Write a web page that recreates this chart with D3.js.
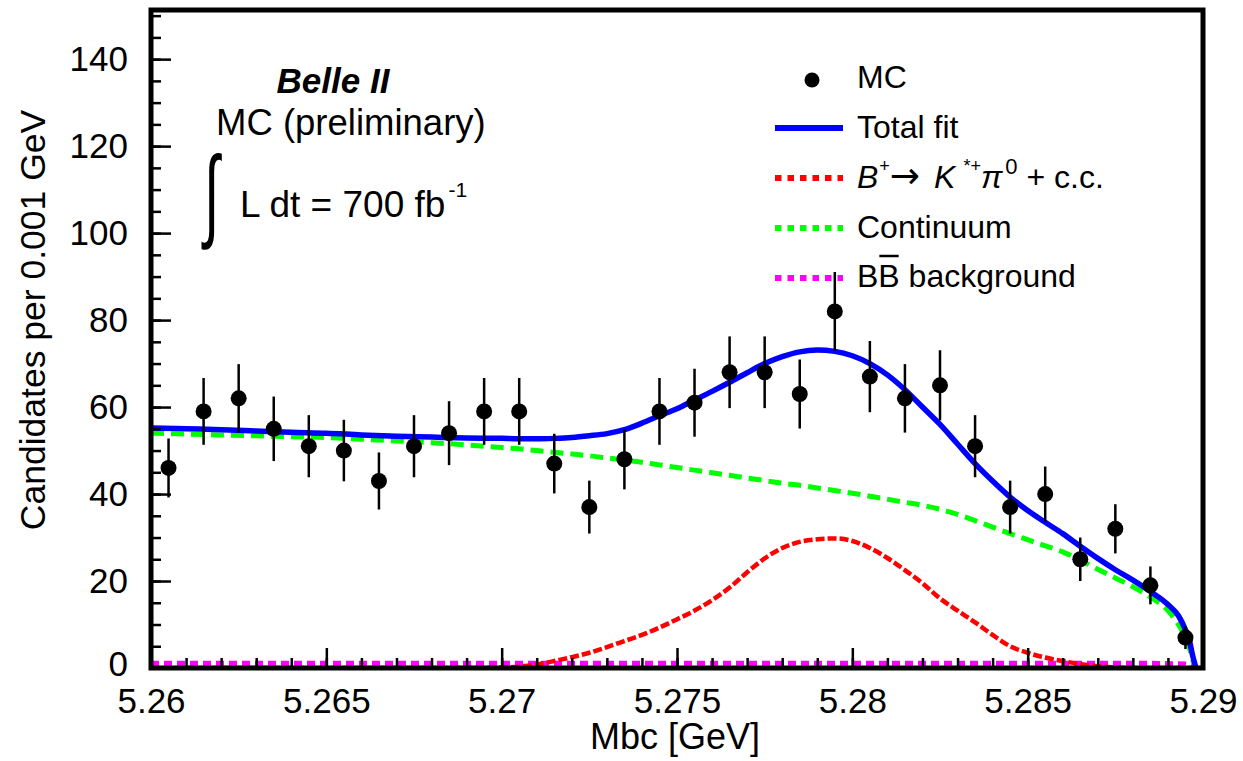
<!DOCTYPE html>
<html>
<head>
<meta charset="utf-8">
<script src="https://cdn.jsdelivr.net/npm/d3@7"></script>
<style>
  body { margin: 0; background: #fff; }
  svg { display: block; }
  text { font-family: "Liberation Sans", Arial, Helvetica, sans-serif; fill: #000; }
</style>
</head>
<body>
<svg id="chart" width="1243" height="761"></svg>
<script>
// MC points (bin width 0.001 GeV)
const binCenters = [5.2605, 5.2615, 5.2625, 5.2635, 5.2645, 5.2655, 5.2665, 5.2675, 5.2685, 5.2695,
                    5.2705, 5.2715, 5.2725, 5.2735, 5.2745, 5.2755, 5.2765, 5.2775, 5.2785, 5.2795,
                    5.2805, 5.2815, 5.2825, 5.2835, 5.2845, 5.2855, 5.2865, 5.2875, 5.2885, 5.2895];
const mcCounts = [46, 59, 62, 55, 51, 50, 43, 51, 54, 59,
                  59, 47, 37, 48, 59, 61, 68, 68, 63, 82,
                  67, 62, 65, 51, 37, 40, 25, 32, 19, 7];

const fitMass = [5.2600, 5.2610, 5.2620, 5.2630, 5.2640, 5.2650, 5.2660, 5.2670, 5.2680, 5.2690, 5.2700,
                 5.2705, 5.2710, 5.2715, 5.2720, 5.2725, 5.2730, 5.2735, 5.2740, 5.2745, 5.2750,
                 5.2755, 5.2760, 5.2765, 5.2770, 5.2775, 5.2780, 5.2785, 5.2790, 5.2795,
                 5.2800, 5.2805, 5.2810, 5.2815, 5.2820, 5.2825, 5.2830, 5.2835, 5.2840, 5.2845,
                 5.2850, 5.2855, 5.2860, 5.2865, 5.2870, 5.2875, 5.2880, 5.2885, 5.2890,
                 5.2893, 5.2895, 5.2896, 5.2897, 5.2898];
const totalFit = [55.2, 55.0, 54.8, 54.5, 54.2, 54.0, 53.6, 53.3, 53.1, 52.9, 52.8,
                  52.7, 52.7, 52.8, 53.0, 53.4, 53.9, 54.8, 56.3, 58.0, 59.6,
                  61.6, 63.6, 65.7, 67.9, 70.0, 71.6, 72.7, 73.1, 72.8,
                  71.8, 70.0, 67.4, 64.0, 60.0, 56.0, 51.5, 47.0, 43.0, 39.3,
                  36.2, 33.5, 30.9, 28.0, 25.2, 22.6, 20.2, 17.6, 14.6,
                  12.0, 8.8, 6.8, 3.0, 0.0];
const signalFit = [0, 0, 0, 0, 0, 0, 0, 0, 0, 0.05, 0.1,
                   0.3, 0.8, 1.6, 2.5, 3.5, 4.8, 6.2, 7.6, 9.3, 11.2,
                   13.2, 15.6, 18.5, 22.0, 25.2, 27.6, 29.0, 29.6, 29.8,
                   29.2, 27.6, 25.3, 22.5, 19.5, 16.0, 13.2, 10.5, 7.6, 5.0,
                   3.5, 2.4, 1.6, 0.9, 0.4, 0.1, 0, 0, 0,
                   0, 0, 0, 0, 0];
const continuumFit = [54.0, 53.8, 53.6, 53.4, 53.2, 53.0, 52.6, 52.2, 51.8, 51.3, 50.7,
                      50.4, 50.0, 49.6, 49.2, 48.8, 48.3, 47.8, 47.3, 46.7, 46.1,
                      45.5, 44.9, 44.3, 43.7, 43.1, 42.5, 42.0, 41.4, 40.8,
                      40.2, 39.5, 38.8, 38.1, 37.4, 36.5, 35.3, 33.9, 32.4, 30.9,
                      29.5, 28.1, 26.7, 24.8, 22.7, 20.7, 18.7, 16.3, 13.2,
                      10.0, 7.0, 5.0, 2.0, 0.0];
const bbbarFit = [1.1, 1.1, 1.1, 1.1, 1.1, 1.1, 1.1, 1.1, 1.1, 1.1, 1.1,
                  1.1, 1.1, 1.1, 1.1, 1.1, 1.1, 1.1, 1.1, 1.1, 1.1,
                  1.1, 1.1, 1.1, 1.1, 1.1, 1.1, 1.1, 1.1, 1.1,
                  1.1, 1.1, 1.1, 1.1, 1.1, 1.1, 1.1, 1.1, 1.1, 1.1,
                  1.1, 1.1, 1.1, 1.1, 1.1, 1.1, 1.1, 1.1, 1.0,
                  1.0, 0.9, 0.7, 0.4, 0.0];

const xTicks = [5.26, 5.265, 5.27, 5.275, 5.28, 5.285, 5.29];
const xTickLabels = ['5.26', '5.265', '5.27', '5.275', '5.28', '5.285', '5.29'];
const yTicks = [0, 20, 40, 60, 80, 100, 120, 140];

const frame = { left: 151, right: 1203, top: 10, bottom: 668 };
const svg = d3.select('#chart');

const x = d3.scaleLinear().domain([5.26, 5.29]).range([frame.left, frame.right]);
const y = d3.scaleLinear().domain([0, 151.3]).range([frame.bottom, frame.top]);

svg.append('defs').append('clipPath').attr('id', 'plotclip')
  .append('rect')
    .attr('x', frame.left).attr('y', frame.top)
    .attr('width', frame.right - frame.left).attr('height', frame.bottom - frame.top);

// curves
const curveLine = vals => d3.line()
  .x((d, i) => x(fitMass[i]))
  .y(d => y(d))
  .curve(d3.curveMonotoneX)(vals);

const curves = [
  { vals: bbbarFit, color: '#ff00ff', width: 5, dash: '8,5' },
  { vals: signalFit, color: '#ff0000', width: 4.5, dash: '9,3' },
  { vals: continuumFit, color: '#00ff00', width: 5, dash: '13,7' },
  { vals: totalFit, color: '#0000ff', width: 5.5, dash: null },
];

const curveG = svg.append('g').attr('clip-path', 'url(#plotclip)');
curveG.selectAll('path')
  .data(curves)
  .join('path')
    .attr('d', c => curveLine(c.vals))
    .attr('fill', 'none')
    .attr('stroke', c => c.color)
    .attr('stroke-width', c => c.width)
    .attr('stroke-dasharray', c => c.dash);

// MC points with sqrt(N) errors
const pts = binCenters.map((m, i) => ({ m, n: mcCounts[i] }));
const pointG = svg.append('g');
pointG.selectAll('line')
  .data(pts)
  .join('line')
    .attr('x1', d => x(d.m)).attr('x2', d => x(d.m))
    .attr('y1', d => y(d.n - Math.sqrt(d.n)))
    .attr('y2', d => y(d.n + Math.sqrt(d.n)))
    .attr('stroke', '#000')
    .attr('stroke-width', 2.5);
pointG.selectAll('circle')
  .data(pts)
  .join('circle')
    .attr('cx', d => x(d.m))
    .attr('cy', d => y(d.n))
    .attr('r', 8)
    .attr('fill', '#000');

// axes: ticks point into the frame
const tickStyle = g => {
  g.select('.domain').remove();
  g.selectAll('.tick line').attr('stroke', '#000').attr('stroke-width', 2.5);
  g.selectAll('.tick text').attr('font-size', 35).attr('fill', '#000')
    .attr('font-family', '"Liberation Sans", Arial, sans-serif');
};

svg.append('g')
  .attr('transform', `translate(0,${frame.bottom})`)
  .call(d3.axisBottom(x).ticks(30).tickSize(-10).tickFormat(''))
  .call(tickStyle);
svg.append('g')
  .attr('transform', `translate(0,${frame.bottom})`)
  .call(d3.axisBottom(x).tickValues(xTicks).tickSize(-20).tickPadding(20)
    .tickFormat((d, i) => xTickLabels[i]))
  .call(tickStyle);

svg.append('g')
  .attr('transform', `translate(${frame.left},0)`)
  .call(d3.axisLeft(y).tickValues(d3.range(0, 151, 5)).tickSize(-10).tickFormat(''))
  .call(tickStyle);
const yAxisG = svg.append('g')
  .attr('transform', `translate(${frame.left},0)`)
  .call(d3.axisLeft(y).tickValues(yTicks).tickSize(-20).tickPadding(23))
  .call(tickStyle);
// the "0" sits right on the frame corner, nudge it up a touch as in the original
yAxisG.selectAll('.tick text').filter(d => d === 0).attr('dy', '0.2em');

svg.append('rect')
  .attr('x', frame.left).attr('y', frame.top)
  .attr('width', frame.right - frame.left).attr('height', frame.bottom - frame.top)
  .attr('fill', 'none')
  .attr('stroke', '#000')
  .attr('stroke-width', 5);

// axis titles
svg.append('text')
  .attr('x', 675).attr('y', 749)
  .attr('text-anchor', 'middle')
  .attr('font-size', 36)
  .text('Mbc [GeV]');

svg.append('text')
  .attr('transform', 'translate(45,320) rotate(-90)')
  .attr('text-anchor', 'middle')
  .attr('font-size', 35.5)
  .text('Candidates per 0.001 GeV');

// Belle II label block
svg.append('text')
  .attr('x', 333).attr('y', 93)
  .attr('text-anchor', 'middle')
  .attr('font-size', 35)
  .attr('font-weight', 'bold')
  .attr('font-style', 'italic')
  .text('Belle II');

svg.append('text')
  .attr('x', 216).attr('y', 135)
  .attr('font-size', 36.5)
  .text('MC (preliminary)');

// integral sign: squeezed sideways so the stroke is thin like the ROOT glyph
svg.append('text')
  .attr('transform', 'translate(204,228) scale(0.55,1.02)')
  .attr('font-size', 100)
  .attr('font-family', '"Liberation Serif", "DejaVu Serif", serif')
  .text('∫');

const lumi = svg.append('text')
  .attr('x', 240).attr('y', 217)
  .attr('font-size', 37);
lumi.append('tspan').text('L dt = 700 fb');
lumi.append('tspan').attr('font-size', 21).attr('dy', -20).attr('dx', 3).text('-1');

// legend
const legX = 857;
const legend = svg.append('g');

legend.append('circle').attr('cx', 812).attr('cy', 80).attr('r', 7.5).attr('fill', '#000');
legend.append('text').attr('x', legX).attr('y', 88).attr('font-size', 32).text('MC');

const legLines = [
  { y: 128, color: '#0000ff', dash: null, width: 6 },
  { y: 178, color: '#ff0000', dash: '6.5,6', width: 6 },
  { y: 228, color: '#00ff00', dash: '6.5,6', width: 6 },
  { y: 278, color: '#ff00ff', dash: '6.5,6', width: 6 },
];
legend.selectAll('line')
  .data(legLines)
  .join('line')
    .attr('x1', 775).attr('x2', 843)
    .attr('y1', d => d.y).attr('y2', d => d.y)
    .attr('stroke', d => d.color)
    .attr('stroke-width', d => d.width)
    .attr('stroke-dasharray', d => d.dash);

legend.append('text').attr('x', legX).attr('y', 138).attr('font-size', 32).text('Total fit');

const sig = legend.append('text').attr('x', legX).attr('y', 188).attr('font-size', 32);
sig.append('tspan').attr('font-style', 'italic').text('B');
sig.append('tspan').attr('font-size', 18).attr('dy', -16).attr('dx', 1).text('+');
sig.append('tspan').attr('dy', 16).attr('font-family', '"DejaVu Sans", sans-serif').attr('font-size', 36).text('\u2192');
sig.append('tspan').attr('dx', 14).attr('font-style', 'italic').text('K');
sig.append('tspan').attr('font-size', 18).attr('dy', -16).attr('dx', 8).text('*+');
sig.append('tspan').attr('dy', 16).attr('font-style', 'italic').text('π');
sig.append('tspan').attr('font-size', 22).attr('dy', -14).attr('dx', 3).text('0');
sig.append('tspan').attr('dy', 14).text(' + c.c.');

legend.append('text').attr('x', legX).attr('y', 238).attr('font-size', 32).text('Continuum');

const bb = legend.append('text').attr('x', legX).attr('y', 287).attr('font-size', 32).text('BB background');
const bbNode = bb.node();
const b2x = bbNode.getStartPositionOfChar(1).x;
const b2w = bbNode.getSubStringLength(1, 1);
legend.append('line')
  .attr('x1', b2x + 1).attr('x2', b2x + b2w - 1)
  .attr('y1', 256).attr('y2', 256)
  .attr('stroke', '#000').attr('stroke-width', 2.5);
</script>
</body>
</html>
